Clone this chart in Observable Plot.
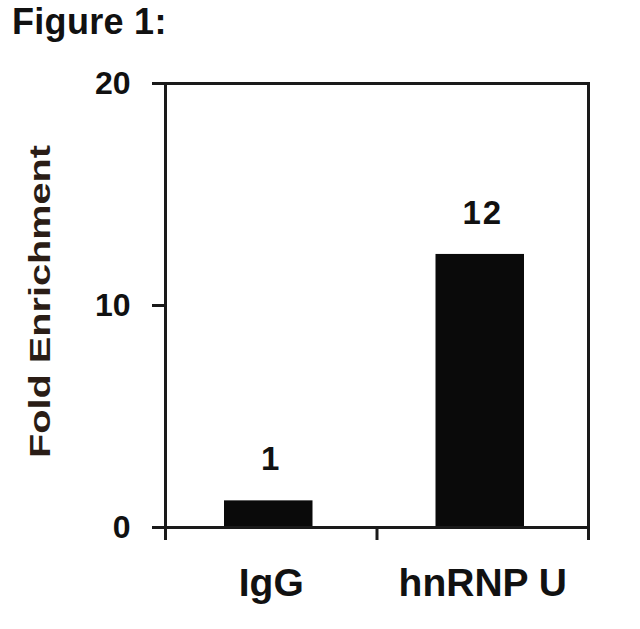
<!DOCTYPE html>
<html>
<head>
<meta charset="utf-8">
<script src="https://cdn.jsdelivr.net/npm/d3@7"></script>
<script src="https://cdn.jsdelivr.net/npm/@observablehq/plot@0.6"></script>
<style>
  html, body { margin: 0; padding: 0; background: #fff; }
  body { width: 640px; height: 629px; overflow: hidden; font-family: "Liberation Sans", Arial, sans-serif; }
  #title { position: absolute; left: 12px; top: 1px; font-size: 36px; font-weight: bold; color: #111; letter-spacing: 0.3px; }
  #chart { position: absolute; left: 0; top: 50px; }
  .wide text { letter-spacing: 2px; }
</style>
</head>
<body>
<div id="title">Figure 1:</div>
<div id="chart"></div>
<script>
const categories = ["IgG", "hnRNP U"];
const values = [1.2, 12.3];
const valueLabels = ["1", "12"];
const yTicks = [0, 10, 20];
const yLabel = "Fold Enrichment";

const data = categories.map((c, i) => ({i, c, v: values[i], label: valueLabels[i]}));
const boundaries = d3.range(categories.length + 1);
const centers = categories.map((c, i) => i + 0.5);

const ink = "#111";
const chart = Plot.plot({
  width: 640,
  height: 579,
  marginTop: 33,
  marginBottom: 102,
  marginLeft: 165,
  marginRight: 52,
  style: {fontFamily: "'Liberation Sans', Arial, sans-serif", fontWeight: "bold", color: ink, background: "#fff"},
  x: {domain: [0, categories.length], axis: null},
  y: {domain: [0, 20], axis: null},
  marks: [
    Plot.rectY(data, {x1: d => d.i, x2: d => d.i + 1, y: "v", insetLeft: 59, insetRight: 64, fill: "#0a0a0a"}),
    Plot.text(data, {x: d => d.i + 0.5, y: "v", text: "label", dy: -41, lineAnchor: "middle", fontSize: 33, fontWeight: "bold", fill: ink, className: "wide"}),
    Plot.frame({stroke: "#1a1a1a", strokeWidth: 3}),
    Plot.axisY({ticks: yTicks, tickSize: 13, tickPadding: 22, tickFormat: d => String(d), fontSize: 32, fontWeight: "bold", strokeWidth: 3, stroke: "#1a1a1a", fill: ink, label: null}),
    Plot.axisX({ticks: boundaries, tickSize: 13, tickFormat: () => "", strokeWidth: 3, stroke: "#1a1a1a", label: null}),
    Plot.axisX({ticks: centers, tickSize: 0, tickPadding: 41, tickFormat: d => categories[Math.floor(d)], fontSize: 39, fontWeight: "bold", fill: ink, label: null}),
    Plot.text([yLabel], {frameAnchor: "left", rotate: -90, dx: -125, dy: -4, text: d => d, textAnchor: "middle", fontSize: 30, fontWeight: "bold", fill: "#2a1d16", lineAnchor: "middle", className: "ylabel"})
  ]
});
d3.select(chart).selectAll(".ylabel text").attr("textLength", 313).attr("lengthAdjust", "spacingAndGlyphs");
document.getElementById("chart").appendChild(chart);
</script>
</body>
</html>
